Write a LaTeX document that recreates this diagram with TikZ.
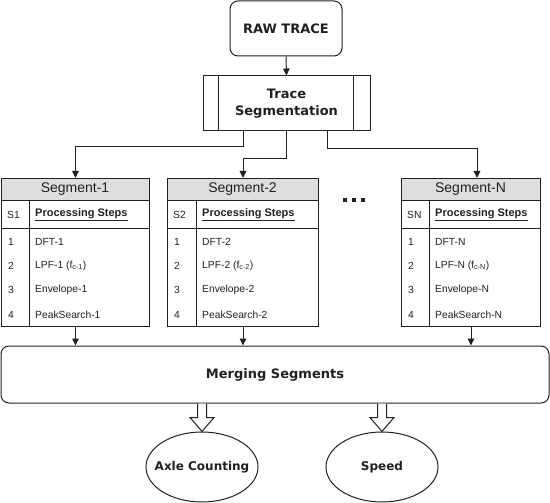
\documentclass[tikz,border=0pt]{standalone}
\usepackage{fontspec}
\setmainfont{Liberation Sans}
\newfontfamily\vfont{DejaVu Sans}
\usetikzlibrary{arrows.meta,shapes.geometric,calc}
\definecolor{ink}{RGB}{35,31,32}
\definecolor{hdrgray}{RGB}{222,222,222}
\newcommand{\segtab}[5]{%
  \fill[hdrgray] (#2,178) rectangle (#3,201);
  \node[tab, anchor=north west, minimum width={(#3)-(#2)}, minimum height=148] (#1) at (#2,178) {};
  \draw[line] (#2,201) -- (#3,201) (#2,229) -- (#3,229) (#4,201) -- (#4,326);
  \node[segtitle] (#1-t) at ({(#2+#3)/2},189.5) {Segment-#5};
  \node[celltxt] (#1-s) at ({#2+6},215) {S#5};
  \node[celltxt, font=\bfseries\fontsize{11}{13}\selectfont] (#1-p) at ({#4+6},215) {\underline{Processing Steps}};
  \node[celltxt] (#1-n1) at ({#2+7},241.5) {1};
  \node[celltxt] (#1-r1) at ({#4+6},241.5) {DFT-#5};
  \node[celltxt] (#1-n2) at ({#2+7},265.5) {2};
  \node[celltxt] (#1-r2) at ({#4+6},265.5) {LPF-#5 (f\textsubscript{c-#5})};
  \node[celltxt] (#1-n3) at ({#2+7},290) {3};
  \node[celltxt] (#1-r3) at ({#4+6},290) {Envelope-#5};
  \node[celltxt] (#1-n4) at ({#2+7},314.5) {4};
  \node[celltxt] (#1-r4) at ({#4+6},314.5) {PeakSearch-#5};
}
\newcommand{\openarrow}[2]{%
  \path (#1.south -| #2.north) coordinate (#2-oa);
  \draw[line, fill=white] ($(#2-oa)+(-4.5,0)$) -- ($(#2-oa)+(-4.5,14)$) -- ($(#2-oa)+(-12,14)$) -- (#2.north)
    -- ($(#2-oa)+(12,14)$) -- ($(#2-oa)+(4.5,14)$) -- ($(#2-oa)+(4.5,0)$);
}
\begin{document}
\begin{tikzpicture}[x=1pt,y=-1pt,
  line/.style={draw=ink, line width=1pt},
  bold/.style={font=\vfont\bfseries\fontsize{13}{16.5}\selectfont, text=ink, align=center},
  rbox/.style={line, bold, rounded corners=8pt, inner sep=0},
  tab/.style={line, inner sep=0},
  segtitle/.style={inner sep=0, text=ink, font=\fontsize{14}{16}\selectfont},
  celltxt/.style={inner sep=0, anchor=west, text=ink, font=\fontsize{10.3}{12}\selectfont},
  arr/.style={line, -{Triangle[length=7pt,width=6.5pt]}},
  ell/.style={line, ellipse, minimum width=112, minimum height=70, inner sep=0}
]
\useasboundingbox (0,0) rectangle (550,503);

\node[rbox, minimum width=112, minimum height=55] (raw) at (286,28.5) {RAW TRACE};
\node[line, bold, inner sep=0, minimum width=167, minimum height=55] (ts) at (286.5,103.5) {Trace\\Segmentation};
\draw[line] ([xshift=16pt]ts.north west) -- ([xshift=16pt]ts.south west)
            ([xshift=-17pt]ts.north east) -- ([xshift=-17pt]ts.south east);
\draw[arr] (raw.south) -- (ts.north);

\segtab{seg1}{1}{149}{29}{1}
\segtab{seg2}{167}{318}{196}{2}
\segtab{segN}{401}{540}{429}{N}

\fill[ink] (343.3,198.3) rectangle ++(3.4,3.4);
\fill[ink] (352.3,198.3) rectangle ++(3.4,3.4);
\fill[ink] (361.3,198.3) rectangle ++(3.4,3.4);

\draw[arr] ([xshift=-43.5pt]ts.south) -- ++(0,15) -| (seg1.north);
\draw[arr] (ts.south) -- ++(0,27) -| (seg2.north);
\draw[arr] ([xshift=40.5pt]ts.south) -- ++(0,17) -| ([xshift=6pt]segN.north);

\node[rbox, minimum width=548, minimum height=57] (merge) at (275,374.5) {Merging Segments};
\draw[arr] (seg1.south) -- (seg1.south |- merge.north);
\draw[arr] (seg2.south) -- (seg2.south |- merge.north);
\draw[arr] (segN.south) -- (segN.south |- merge.north);

\node[ell] (ax) at (202,467) {};
\node[bold, inner sep=0, font=\vfont\bfseries\fontsize{12}{15}\selectfont] (axt) at (ax.center) {Axle Counting};
\node[ell] (sp) at (382,467) {};
\node[bold, inner sep=0, font=\vfont\bfseries\fontsize{12}{15}\selectfont] (spt) at (sp.center) {Speed};
\openarrow{merge}{ax}
\openarrow{merge}{sp}
\end{tikzpicture}
\end{document}
